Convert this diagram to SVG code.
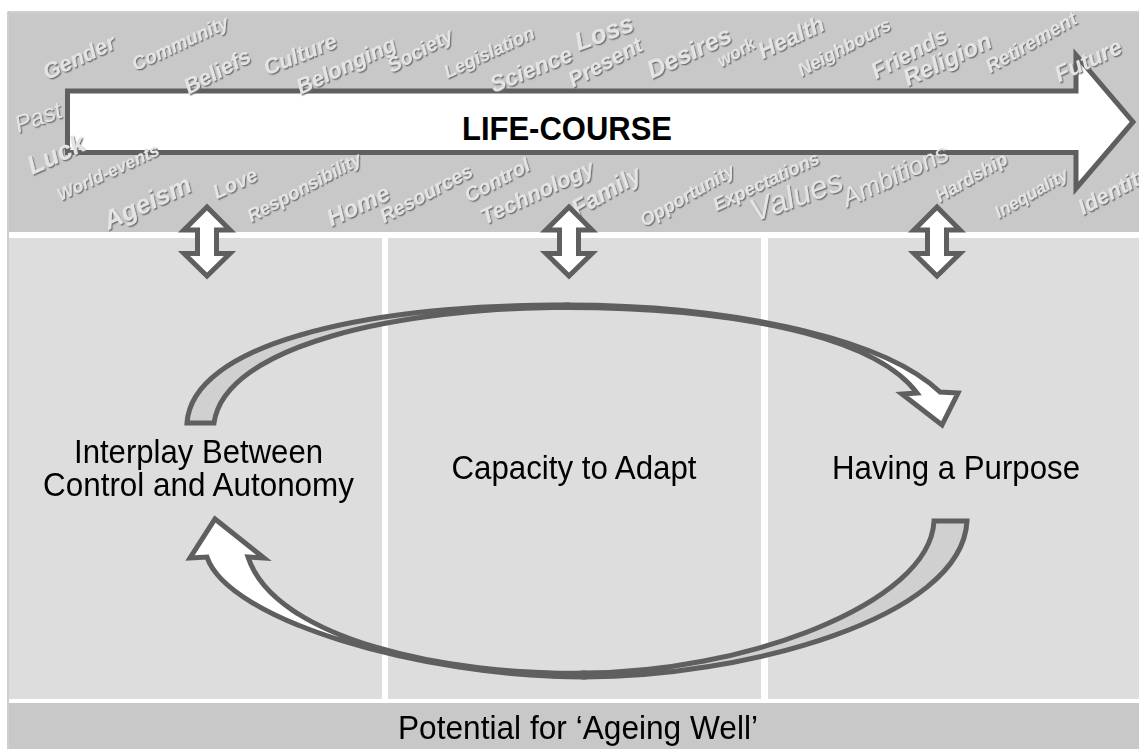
<svg xmlns="http://www.w3.org/2000/svg" width="1139" height="749" viewBox="0 0 1139 749">
<style>
.band{fill:#c8c8c8}
.panel{fill:#dddddd}
.ln{stroke:#5f5f5f;stroke-width:5;stroke-linejoin:miter;stroke-miterlimit:10}
.lbl{font-family:"Liberation Sans",Arial,sans-serif;font-size:33px;fill:#000;text-anchor:middle}
.w{font-family:"Liberation Sans",Arial,sans-serif;font-style:italic;font-weight:bold;fill:#e4e4e4;text-anchor:middle}
.wn{font-weight:normal}
</style>
<defs>
<filter id="sh" x="-10%" y="-10%" width="130%" height="130%">
<feDropShadow dx="1.3" dy="1.3" stdDeviation="0.7" flood-color="#6a6a6a" flood-opacity="0.9"/>
</filter>
<clipPath id="clipTop"><rect x="9" y="0" width="1130" height="240"/></clipPath>
</defs>
<g id="background">
<rect x="8" y="12" width="1140" height="745" fill="#ffffff" stroke="#a0a0a0" stroke-width="1"/>
<rect class="band" x="9" y="13" width="1130" height="219"/>
<rect class="panel" x="9" y="238" width="373" height="461"/>
<rect class="panel" x="388" y="238" width="373" height="461"/>
<rect class="panel" x="768" y="238" width="371" height="461"/>
<rect class="band" x="9" y="703" width="1130" height="46"/>
</g>
<g id="node-lifecourse">
<path class="ln" fill="#ffffff" d="M67.5,91 L1076,91 L1076,55 L1133,122 L1076,188.5 L1076,152.5 L67.5,152.5 Z"/>
<text x="567" y="140" font-family="Liberation Sans,Arial,sans-serif" font-weight="bold" font-size="33" text-anchor="middle" textLength="210" lengthAdjust="spacingAndGlyphs">LIFE-COURSE</text>
</g>
<g id="words" filter="url(#sh)" clip-path="url(#clipTop)">
<text class="w" font-size="22" x="79" y="57" dy=".35em" transform="rotate(-25 79 57)">Gender</text>
<text class="w" font-size="19" x="180" y="43" dy=".35em" transform="rotate(-25 180 43)">Community</text>
<text class="w" font-size="22" x="217" y="71" dy=".35em" transform="rotate(-28 217 71)">Beliefs</text>
<text class="w" font-size="22" x="300" y="54" dy=".35em" transform="rotate(-22 300 54)">Culture</text>
<text class="w" font-size="22" x="346" y="65" dy=".35em" transform="rotate(-25 346 65)">Belonging</text>
<text class="w wn" font-size="24" x="38" y="117" dy=".35em" transform="rotate(-20 38 117)">Past</text>
<text class="w" font-size="26" x="56" y="154" dy=".35em" transform="rotate(-25 56 154)">Luck</text>
<text class="w" font-size="17.5" x="108" y="172" dy=".35em" transform="rotate(-25 108 172)">World-events</text>
<text class="w" font-size="26" x="147" y="202" dy=".35em" transform="rotate(-25 147 202)">Ageism</text>
<text class="w" font-size="20" x="235" y="183" dy=".35em" transform="rotate(-25 235 183)">Love</text>
<text class="w" font-size="18.5" x="304" y="187" dy=".35em" transform="rotate(-28 304 187)">Responsibility</text>
<text class="w" font-size="24" x="358" y="205" dy=".35em" transform="rotate(-25 358 205)">Home</text>
<text class="w" font-size="20" x="420" y="50" dy=".35em" transform="rotate(-28 420 50)">Society</text>
<text class="w" font-size="18.5" x="489" y="52" dy=".35em" transform="rotate(-25 489 52)">Legislation</text>
<text class="w" font-size="23" x="531" y="69" dy=".35em" transform="rotate(-22 531 69)">Science</text>
<text class="w" font-size="26" x="604" y="32" dy=".35em" transform="rotate(-20 604 32)">Loss</text>
<text class="w" font-size="22" x="605" y="62" dy=".35em" transform="rotate(-28 605 62)">Present</text>
<text class="w" font-size="25" x="689" y="52" dy=".35em" transform="rotate(-25 689 52)">Desires</text>
<text class="w" font-size="17.5" x="736" y="52" dy=".35em" transform="rotate(-30 736 52)">work</text>
<text class="w" font-size="20" x="426" y="193" dy=".35em" transform="rotate(-28 426 193)">Resources</text>
<text class="w" font-size="20" x="497" y="180" dy=".35em" transform="rotate(-28 497 180)">Control</text>
<text class="w" font-size="22" x="537" y="192" dy=".35em" transform="rotate(-25 537 192)">Technology</text>
<text class="w" font-size="24" x="606" y="191" dy=".35em" transform="rotate(-30 606 191)">Family</text>
<text class="w" font-size="18.5" x="687" y="195" dy=".35em" transform="rotate(-30 687 195)">Opportunity</text>
<text class="w" font-size="18.5" x="766" y="181" dy=".35em" transform="rotate(-25 766 181)">Expectations</text>
<text class="w" font-size="23" x="791" y="37" dy=".35em" transform="rotate(-25 791 37)">Health</text>
<text class="w" font-size="18.5" x="844" y="47" dy=".35em" transform="rotate(-28 844 47)">Neighbours</text>
<text class="w" font-size="23" x="909" y="53" dy=".35em" transform="rotate(-28 909 53)">Friends</text>
<text class="w" font-size="24" x="947" y="59" dy=".35em" transform="rotate(-25 947 59)">Religion</text>
<text class="w" font-size="19.5" x="1031" y="42" dy=".35em" transform="rotate(-30 1031 42)">Retirement</text>
<text class="w" font-size="23" x="1088" y="60" dy=".35em" transform="rotate(-25 1088 60)">Future</text>
<text class="w wn" font-size="32" x="796" y="195" dy=".35em" transform="rotate(-20 796 195)">Values</text>
<text class="w wn" font-size="26" x="895" y="175" dy=".35em" transform="rotate(-25 895 175)">Ambitions</text>
<text class="w" font-size="18.5" x="971" y="177" dy=".35em" transform="rotate(-30 971 177)">Hardship</text>
<text class="w" font-size="17.5" x="1031" y="193" dy=".35em" transform="rotate(-30 1031 193)">Inequality</text>
<text class="w" font-size="22" x="1114" y="190" dy=".35em" transform="rotate(-28 1114 190)">Identity</text>
</g>
<g id="node-control">
<text class="lbl" x="198.5" y="462.5" textLength="249" lengthAdjust="spacingAndGlyphs">Interplay Between</text>
<text class="lbl" x="198.5" y="495.5" textLength="311" lengthAdjust="spacingAndGlyphs">Control and Autonomy</text>
</g>
<g id="node-adapt">
<text class="lbl" x="574" y="479" textLength="245" lengthAdjust="spacingAndGlyphs">Capacity to Adapt</text>
</g>
<g id="node-purpose">
<text class="lbl" x="956" y="479" textLength="248" lengthAdjust="spacingAndGlyphs">Having a Purpose</text>
</g>
<g id="node-ageingwell">
<text class="lbl" x="578" y="739" textLength="360" lengthAdjust="spacingAndGlyphs">Potential for ‘Ageing Well’</text>
</g>
<g id="connectors">
<path class="ln" fill="#ffffff" d="M207,207 L230,230 L216.5,230 L216.5,253.5 L230,253.5 L207,276 L184,253.5 L197.5,253.5 L197.5,230 L184,230 Z"/>
<path class="ln" fill="#ffffff" d="M569,207 L592,230 L578.5,230 L578.5,253.5 L592,253.5 L569,276 L546,253.5 L559.5,253.5 L559.5,230 L546,230 Z"/>
<path class="ln" fill="#ffffff" d="M937,207 L960,230 L946.5,230 L946.5,253.5 L960,253.5 L937,276 L914,253.5 L927.5,253.5 L927.5,230 L914,230 Z"/>
<path class="ln" fill="#d0d0d0" d="M187,423 C192,345 360,305 567,305 L567,307.5 C400,307.5 225,345 214,423 Z"/>
<path class="ln" fill="#ffffff" d="M567,305 C720,305 880,335 940,392 L958,393 L942,425 L902,394 L917,393 C870,330 710,307.5 567,307.5 Z"/>
<path class="ln" fill="#d0d0d0" d="M967,521 C962,620 740,677 584,677 L584,673 C740,673 930,605 934,521 Z"/>
<path class="ln" fill="#ffffff" d="M584,677 C420,677 228,620 207,557 L190,558 L215,519 L264,558 L248,557 C275,640 450,676 584,673 Z"/>
</g>
</svg>
